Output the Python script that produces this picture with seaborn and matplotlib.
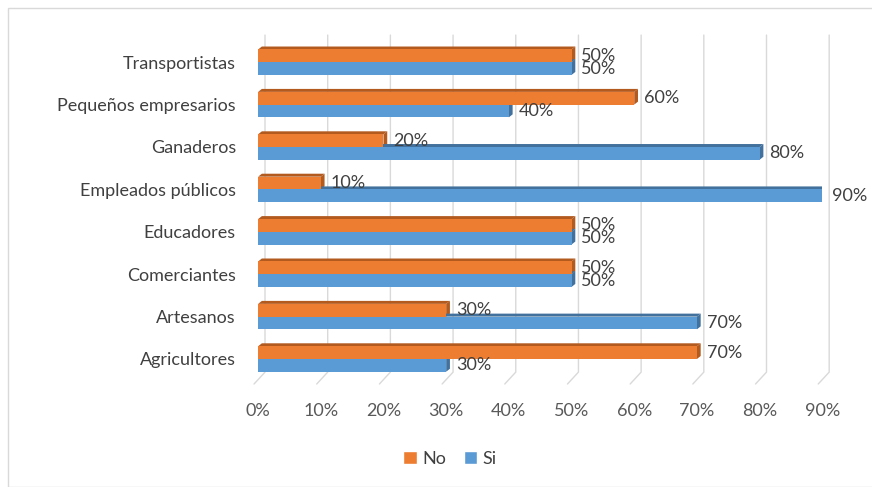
import numpy as np
import pandas as pd
import matplotlib
matplotlib.use("Agg")
import matplotlib.pyplot as plt
import seaborn as sns
from matplotlib.patches import Polygon, Rectangle
from matplotlib.ticker import FuncFormatter

# Datos
categorias = ["Transportistas", "Pequeños empresarios", "Ganaderos", "Empleados públicos",
              "Educadores", "Comerciantes", "Artesanos", "Agricultores"]
valores_no = [50, 60, 20, 10, 50, 50, 30, 70]
valores_si = [50, 40, 80, 90, 50, 50, 70, 30]
respuestas = ["No", "Si"]
ticks_x = [0, 10, 20, 30, 40, 50, 60, 70, 80, 90]

df = pd.DataFrame({
    "categoria": categorias * 2,
    "respuesta": ["No"] * len(categorias) + ["Si"] * len(categorias),
    "valor": valores_no + valores_si,
})

colores = {"No": "#ED7D31", "Si": "#5B9BD5"}
lados = {"No": "#B35A1F", "Si": "#41719C"}

sns.set_style("white")
plt.rcParams["font.family"] = ["Lato", "DejaVu Sans"]

fig = plt.figure(figsize=(8.72, 4.87), dpi=100)
ax = fig.add_axes([0.296, 0.2115, 0.647, 0.7165])

sns.barplot(
    data=df, y="categoria", x="valor", hue="respuesta", hue_order=respuestas,
    order=categorias, orient="h", palette=colores, width=0.6,
    saturation=1, legend=False, ax=ax, zorder=3, linewidth=0, edgecolor="none",
)

y_abajo, y_arriba = 7.59, -0.64
ax.set_xlim(0, 90)
ax.set_ylim(y_abajo, y_arriba)

# Efecto 3D simple: cara superior y lateral derecha
dx, dy = 0.6, 0.07
for cont, resp in zip(ax.containers, respuestas):
    for p in cont.patches:
        x0, y0 = p.get_x(), p.get_y()
        x1 = x0 + p.get_width()
        yt, yb = min(y0, y0 + p.get_height()), max(y0, y0 + p.get_height())
        lado = Polygon([(x1, yt), (x1 + dx, yt - dy), (x1 + dx, yb - dy), (x1, yb)],
                       closed=True, facecolor=lados[resp], edgecolor="none", zorder=2)
        tapa = Polygon([(x0, yt), (x0 + dx, yt - dy), (x1 + dx, yt - dy), (x1, yt)],
                       closed=True, facecolor=lados[resp], edgecolor="none", zorder=2)
        ax.add_patch(lado)
        ax.add_patch(tapa)
    ax.bar_label(cont, labels=[f"{v:.0f}%" for v in cont.datavalues],
                 padding=7, fontsize=13, color="#404040")

# Rejilla vertical con pie inclinado (suelo 3D)
desfase, y_pie = 1.1, 7.31
for t in ticks_x:
    ax.plot([t + desfase, t + desfase, t - 0.65], [y_arriba, y_pie, y_abajo],
            color="#d9d9d9", linewidth=1, zorder=1, clip_on=False)

ax.set_xticks(ticks_x)
ax.xaxis.set_major_formatter(FuncFormatter(lambda v, _: f"{v:.0f}%"))
ax.grid(False)
for s in ax.spines.values():
    s.set_visible(False)
ax.tick_params(axis="x", length=0, pad=14, labelsize=13, labelcolor="#595959")
ax.tick_params(axis="y", length=0, pad=16, labelsize=13, labelcolor="#404040")
ax.set_xlabel("")
ax.set_ylabel("")

# Leyenda
handles = [Rectangle((0, 0), 1, 1, facecolor=colores[r]) for r in respuestas]
fig.legend(handles, respuestas, loc="center", bbox_to_anchor=(0.516, 0.058), ncol=2,
           frameon=False, fontsize=13, handlelength=0.75, handleheight=0.75,
           handletextpad=0.3, columnspacing=1.0, labelcolor="#404040")

# Borde del gráfico
fig.patches.append(Rectangle((8 / 872, 0), 1, 1 - 8 / 487, transform=fig.transFigure,
                             fill=False, edgecolor="#d9d9d9", linewidth=1))

fig.savefig("out.png", dpi=100)
